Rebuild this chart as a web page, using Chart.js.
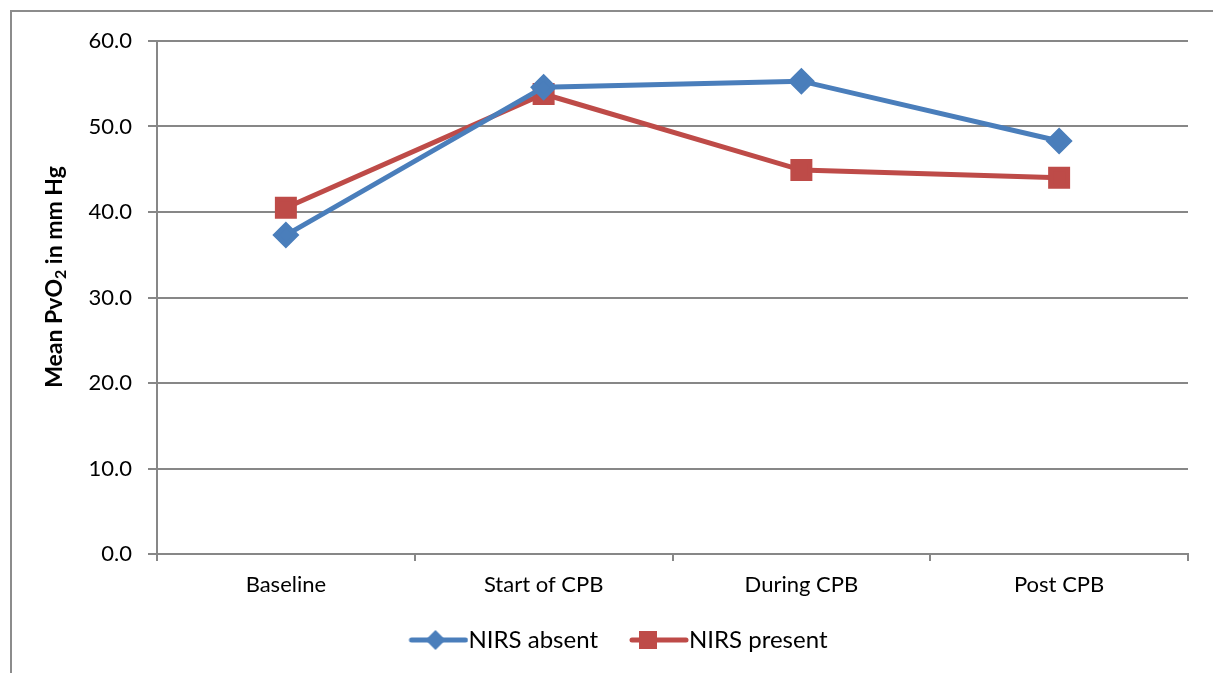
<!DOCTYPE html>
<html>
<head>
<meta charset="utf-8">
<script src="https://cdn.jsdelivr.net/npm/chart.js@4.4.1/dist/chart.umd.min.js"></script>
<style>
  html, body { margin: 0; padding: 0; background: #fff; }
  #wrap { width: 1213px; height: 673px; }
</style>
</head>
<body>
<div id="wrap"><canvas id="chart" width="1213" height="673"></canvas></div>
<script>
// data
const categories = ['Baseline', 'Start of CPB', 'During CPB', 'Post CPB'];
const nirsAbsent = [37.3, 54.6, 55.3, 48.3];
const nirsPresent = [40.5, 53.8, 44.9, 44.0];
const yTicks = [0, 10, 20, 30, 40, 50, 60];

const BLUE = '#4a7ebb';
const RED = '#be4b48';
const GRID = '#878787';
const FONT = 'Lato';

// legend swatch: short line with the marker on it (drawn in the right 60px)
function makeSwatch(color, shape) {
    const c = document.createElement('canvas');
    c.width = 83;
    c.height = 24;
    const g = c.getContext('2d');
    g.strokeStyle = color;
    g.lineWidth = 5;
    g.lineCap = 'round';
    g.beginPath();
    g.moveTo(26, 12);
    g.lineTo(80, 12);
    g.stroke();
    g.fillStyle = color;
    if (shape === 'diamond') {
        g.beginPath();
        g.moveTo(50, 2);
        g.lineTo(60, 12);
        g.lineTo(50, 22);
        g.lineTo(40, 12);
        g.closePath();
        g.fill();
    } else {
        g.fillRect(33, 3, 18, 18);
    }
    return c;
}

// outer frame lines (left and top) like the original screenshot
const framePlugin = {
    id: 'frame',
    beforeDraw(chart) {
        const ctx = chart.ctx;
        ctx.save();
        ctx.strokeStyle = '#8c8c8c';
        ctx.lineWidth = 2;
        ctx.beginPath();
        ctx.moveTo(11, 673);
        ctx.lineTo(11, 11);
        ctx.lineTo(1213, 11);
        ctx.stroke();
        ctx.restore();
    }
};

// y title with a real subscript 2
const yTitlePlugin = {
    id: 'yTitle',
    afterDraw(chart) {
        const ctx = chart.ctx;
        const parts = [
            { t: 'Mean PvO', sub: false },
            { t: '2', sub: true },
            { t: ' in mm Hg', sub: false }
        ];
        const size = 23;
        const big = 'bold ' + size + 'px ' + FONT;
        const small = 'bold ' + Math.round(size * 0.7) + 'px ' + FONT;
        let total = 0;
        parts.forEach(p => {
            ctx.font = p.sub ? small : big;
            p.w = ctx.measureText(p.t).width;
            total += p.w;
        });
        ctx.save();
        ctx.translate(55, 277);
        ctx.rotate(-Math.PI / 2);
        ctx.fillStyle = '#000';
        ctx.textBaseline = 'middle';
        ctx.textAlign = 'left';
        let x = -total / 2;
        parts.forEach(p => {
            ctx.font = p.sub ? small : big;
            ctx.fillText(p.t, x, p.sub ? 6 : 0);
            x += p.w;
        });
        ctx.restore();
    }
};

new Chart(document.getElementById('chart'), {
    type: 'line',
    data: {
        labels: categories,
        datasets: [{
            label: 'NIRS absent',
            data: nirsAbsent,
            borderColor: BLUE,
            backgroundColor: BLUE,
            borderWidth: 5,
            pointStyle: 'rectRot',
            pointRadius: 10,
            pointHoverRadius: 10,
            tension: 0
        }, {
            label: 'NIRS present',
            data: nirsPresent,
            borderColor: RED,
            backgroundColor: RED,
            borderWidth: 5,
            pointStyle: 'rect',
            pointRadius: 12,
            pointHoverRadius: 12,
            tension: 0
        }]
    },
    options: {
        responsive: false,
        animation: false,
        layout: { padding: { left: 37, right: 25, top: 41, bottom: 11 } },
        plugins: {
            tooltip: { enabled: false },
            legend: {
                position: 'bottom',
                labels: {
                    usePointStyle: true,
                    pointStyleWidth: 59,
                    padding: 20,
                    color: '#000',
                    font: { family: FONT, size: 24 },
                    generateLabels(chart) {
                        return chart.data.datasets.map((ds, i) => ({
                            text: ds.label,
                            datasetIndex: i,
                            pointStyle: makeSwatch(ds.borderColor, i === 0 ? 'diamond' : 'square'),
                            fillStyle: ds.borderColor,
                            strokeStyle: ds.borderColor,
                            lineWidth: 0,
                            fontColor: '#000'
                        }));
                    }
                }
            }
        },
        scales: {
            x: {
                offset: true,
                grid: {
                    offset: true,
                    drawOnChartArea: false,
                    drawTicks: true,
                    tickLength: 7,
                    color: GRID,
                    lineWidth: 2
                },
                border: { color: GRID, width: 2 },
                ticks: {
                    color: '#000',
                    padding: 11,
                    font: { family: FONT, size: 22 }
                },
                afterFit(scale) { scale.height = 54; }
            },
            y: {
                min: 0,
                max: 60,
                afterBuildTicks(scale) {
                    scale.ticks = yTicks.map(v => ({ value: v }));
                },
                grid: {
                    color: GRID,
                    lineWidth: 2,
                    tickLength: 9
                },
                border: { color: GRID, width: 2 },
                ticks: {
                    color: '#000',
                    padding: 16,
                    font: { family: FONT, size: 22 },
                    callback: v => v.toFixed(1)
                },
                afterFit(scale) { scale.width = 120; }
            }
        }
    },
    plugins: [framePlugin, yTitlePlugin]
});
</script>
</body>
</html>
